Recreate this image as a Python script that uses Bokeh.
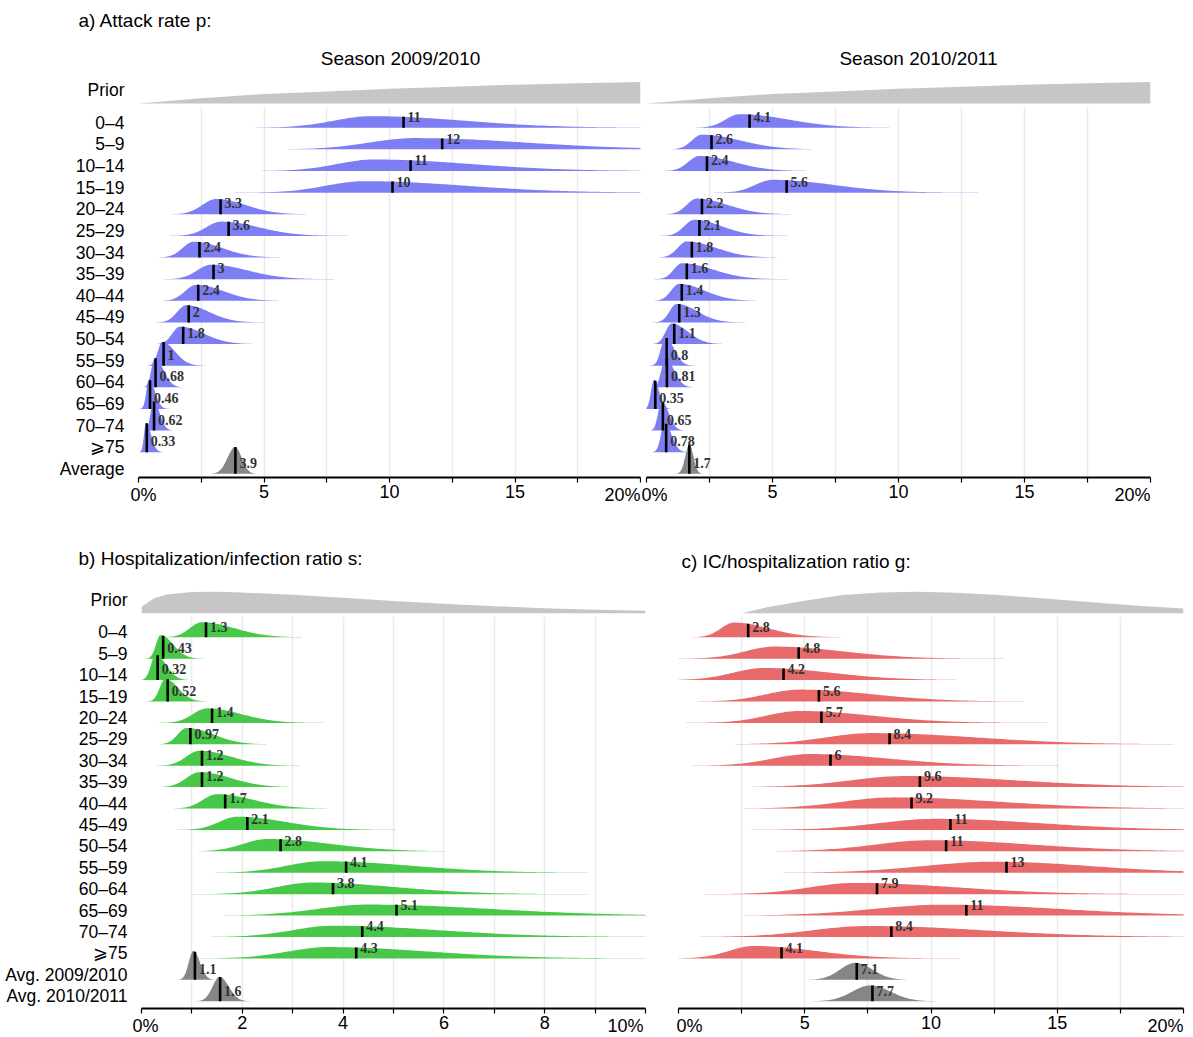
import numpy as np
from bokeh.plotting import figure
from bokeh.models import Range1d, FixedTicker, ColumnDataSource, BoxAnnotation
from bokeh.layouts import column, row
from bokeh.embed import file_html
from bokeh.resources import INLINE
from bokeh.core.properties import value

# ---------------- data ----------------
AGES = ["0–4", "5–9", "10–14", "15–19", "20–24", "25–29", "30–34", "35–39",
        "40–44", "45–49", "50–54", "55–59", "60–64", "65–69", "70–74", "⩾75"]
ROWS_A = AGES + ["Average"]
ROWS_BC = AGES + ["Avg. 2009/2010", "Avg. 2010/2011"]

# a) attack rate p, season 2009/2010 (median, mode, visible low end, visible high end)
med_a1 = [10.56, 12.1, 10.84, 10.12, 3.27, 3.59, 2.43, 2.99, 2.38, 2.0, 1.78, 1.0, 0.68, 0.46, 0.62, 0.33, 3.86]
mode_a1 = [9.3, 11.0, 9.4, 9.0, 3.1, 3.3, 2.2, 2.9, 2.3, 1.9, 1.65, 0.95, 0.65, 0.42, 0.6, 0.3, 3.85]
lo_a1 = [5.5, 6.5, 5.7, 5.2, 1.7, 1.8, 1.1, 1.5, 1.2, 1.0, 0.9, 0.5, 0.3, 0.15, 0.3, 0.1, 3.1]
hi_a1 = [18.5, 22.0, 19.0, 19.0, 6.0, 7.0, 5.0, 6.5, 5.0, 4.2, 4.0, 2.2, 1.5, 1.0, 1.2, 0.8, 4.5]

# a) attack rate p, season 2010/2011
med_a2 = [4.09, 2.58, 2.4, 5.56, 2.2, 2.1, 1.8, 1.6, 1.4, 1.3, 1.1, 0.8, 0.81, 0.35, 0.65, 0.78, 1.7]
mode_a2 = [3.7, 2.2, 2.1, 5.0, 2.0, 1.9, 1.6, 1.4, 1.3, 1.2, 1.0, 0.75, 0.75, 0.3, 0.6, 0.72, 1.7]
lo_a2 = [2.3, 1.2, 1.0, 3.3, 1.0, 0.9, 0.7, 0.6, 0.5, 0.5, 0.4, 0.3, 0.35, 0.0, 0.25, 0.35, 1.3]
hi_a2 = [8.5, 6.0, 5.5, 11.0, 5.0, 4.6, 4.5, 4.5, 3.8, 3.2, 2.6, 1.6, 1.6, 0.8, 1.3, 1.4, 2.1]

# b) hospitalization/infection ratio s
med_b = [1.28, 0.43, 0.32, 0.52, 1.4, 0.97, 1.2, 1.2, 1.66, 2.1, 2.76, 4.06, 3.8, 5.06, 4.38, 4.26, 1.06, 1.56]
mode_b = [1.2, 0.38, 0.28, 0.47, 1.3, 0.9, 1.15, 1.15, 1.5, 1.9, 2.5, 3.6, 3.4, 4.5, 3.8, 3.7, 1.03, 1.55]
lo_b = [0.6, 0.15, 0.05, 0.2, 0.6, 0.45, 0.5, 0.5, 0.8, 1.0, 1.3, 1.8, 1.6, 2.0, 1.8, 1.7, 0.8, 1.2]
hi_b = [2.8, 1.0, 0.8, 1.1, 3.0, 2.2, 2.7, 2.7, 3.3, 4.3, 5.6, 8.0, 7.5, 10.5, 9.0, 8.7, 1.35, 2.0]

# c) IC/hospitalization ratio g
med_c = [2.76, 4.76, 4.16, 5.56, 5.66, 8.36, 6.02, 9.56, 9.23, 10.77, 10.6, 12.99, 7.86, 11.4, 8.43, 4.08, 7.06, 7.68]
mode_c = [2.2, 3.8, 3.4, 4.8, 4.8, 7.7, 5.2, 9.0, 8.5, 10.2, 10.0, 12.5, 7.0, 10.5, 7.5, 3.0, 7.0, 7.6]
lo_c = [0.9, 0.9, 0.3, 1.5, 1.5, 3.0, 1.5, 3.5, 3.5, 4.5, 4.5, 5.5, 2.5, 3.5, 2.0, 0.5, 5.5, 5.8]
hi_c = [5.6, 10.5, 10.0, 12.0, 12.0, 18.0, 13.0, 20.0, 19.0, 20.5, 20.0, 22.0, 17.0, 22.0, 19.0, 9.0, 8.7, 9.6]

# prior curves (relative heights read at a few x positions)
prior_a_x = [0, 2.5, 5, 7.5, 10, 12.5, 15, 17.5, 20]
prior_a_h = [0.0, 0.24, 0.44, 0.56, 0.68, 0.77, 0.87, 0.94, 1.0]
prior_b_x = [0, 0.25, 0.5, 1, 1.5, 2, 3, 4, 5, 6, 7, 8, 9, 10]
prior_b_h = [0.3, 0.7, 0.88, 0.99, 1.0, 0.97, 0.86, 0.72, 0.57, 0.44, 0.33, 0.24, 0.17, 0.12]
prior_c_x = [2.5, 3.5, 5, 6.5, 8, 9.5, 11, 12.5, 14, 15.5, 17, 18.5, 20]
prior_c_h = [0.0, 0.28, 0.58, 0.85, 0.97, 1.0, 0.96, 0.86, 0.74, 0.6, 0.46, 0.33, 0.22]

# axis tick values and labels
A_TICKS = [0, 2.5, 5, 7.5, 10, 12.5, 15, 17.5, 20]
A_LAB_X = [0, 5, 10, 15, 20]
A_LAB = ["0%", "5", "10", "15", "20%"]
B_TICKS = [0, 1, 2, 3, 4, 5, 6, 7, 8, 9, 10]
B_LAB_X = [0, 2, 4, 6, 8, 10]
B_LAB = ["0%", "2", "4", "6", "8", "10%"]

# ---------------- styles ----------------
BLUE, GREEN, RED, GRAY, PRIOR = "#7e7ef4", "#48c848", "#e86a6a", "#868686", "#c6c6c6"
SANS, SERIF = "Liberation Sans", "Liberation Serif"
BASE_SHIFT = 0.23
PRIOR_BASE, PRIOR_H = 0.89, 1.0
W = 1193


def make_fig(width, height, xmax, ybot, ytop, bl, br, bt, bb, rows, ticks, yaxis):
    p = figure(width=width, height=height, x_range=Range1d(0, xmax), y_range=Range1d(ybot, ytop),
               output_backend="svg", toolbar_location=None,
               min_border_left=bl, min_border_right=br, min_border_top=bt, min_border_bottom=bb,
               y_axis_location="left" if yaxis else None)
    p.outline_line_color = None
    p.background_fill_color = "white"
    p.border_fill_color = "white"
    p.ygrid.visible = False
    p.xgrid.ticker = FixedTicker(ticks=ticks)
    p.xgrid.grid_line_color = "#ebebeb"
    p.xgrid.grid_line_width = 1.5
    ax = p.xaxis[0]
    ax.ticker = FixedTicker(ticks=[], minor_ticks=ticks)
    ax.axis_line_width = 2
    ax.axis_line_color = "black"
    ax.major_tick_out = 5
    ax.major_tick_in = 0
    ax.minor_tick_out = 5
    ax.minor_tick_in = 0
    ax.minor_tick_line_color = "black"
    ax.minor_tick_line_width = 1.2
    if yaxis:
        ay = p.yaxis[0]
        yt = [1.5] + [-i for i in range(len(rows))]
        ay.ticker = FixedTicker(ticks=yt, minor_ticks=[])
        ov = {1.5: "Prior"}
        for i, r in enumerate(rows):
            ov[-i] = r
        ay.major_label_overrides = ov
        ay.axis_line_color = None
        ay.major_tick_line_color = None
        ay.minor_tick_line_color = None
        ay.major_label_standoff = 8
        ay.major_label_text_font = SANS
        ay.major_label_text_font_size = "17.5px"
        ay.major_label_text_color = "black"
    # white mask so that the grid does not run through the prior strip
    mask = BoxAnnotation(bottom=0.72, fill_color="white", fill_alpha=1.0, line_color=None, level="glyph")
    p.renderers.append(mask)
    return p


def draw(p, xmax, med, mode, lo, hi, color, n_avg, prior_x, prior_h):
    px = [prior_x[0]] + list(prior_x) + [prior_x[-1]]
    py = [PRIOR_BASE] + [PRIOR_BASE + PRIOR_H * h for h in prior_h] + [PRIOR_BASE]
    p.patch(px, py, fill_color=PRIOR, line_color=None)

    n = len(med)
    xs, ys, cols = [], [], []
    tx, ty0, ty1, lx, ly, lt = [], [], [], [], [], []
    for i in range(n):
        base = -i - BASE_SHIFT
        m = mode[i]
        sl = (m - lo[i]) / 2.5
        sr = (hi[i] - m) / 2.5
        wfrac = (hi[i] - lo[i]) / xmax
        h = min(1.35, 0.45 + 0.055 / wfrac)
        x = np.linspace(m - 3.4 * sl, m + 3.4 * sr, 180)
        s = np.where(x < m, sl, sr)
        f = np.exp(-0.5 * ((x - m) / s) ** 2)
        xs.append(np.concatenate([x, x[::-1]]))
        ys.append(np.concatenate([base + h * f, np.full_like(x, base)]))
        cols.append(GRAY if i >= n - n_avg else color)
        sm = sl if med[i] < m else sr
        fm = np.exp(-0.5 * ((med[i] - m) / sm) ** 2)
        tx.append(med[i])
        ty0.append(base)
        ty1.append(base + h * fm)
        lx.append(med[i])
        ly.append(base + 0.5)
        lt.append("%.2g" % med[i])
    p.patches(xs="xs", ys="ys", fill_color="c", line_color=None,
              source=ColumnDataSource(dict(xs=xs, ys=ys, c=cols)))
    p.segment(x0="x", y0="y0", x1="x", y1="y1", line_color="black", line_width=2.6,
              source=ColumnDataSource(dict(x=tx, y0=ty0, y1=ty1)))
    p.text(x="x", y="y", text="t", source=ColumnDataSource(dict(x=lx, y=ly, t=lt)),
           text_font=value(SERIF), text_font_style="bold", text_font_size="14px",
           text_color="#333333", text_align="left", text_baseline="middle", x_offset=4)


def footer(width, height, frame_left, frame_w, xmax, lab_x, labs, off_first, off_last, top):
    """Tick-label strip sharing the panel's x scale (same px per unit, same origin)."""
    pxu = frame_w / xmax
    f = figure(width=width, height=height,
               x_range=Range1d(-frame_left / pxu, (width - frame_left) / pxu),
               y_range=Range1d(height, 0), output_backend="svg", toolbar_location=None,
               min_border=0, x_axis_location=None, y_axis_location=None)
    f.outline_line_color = None
    f.grid.visible = False
    aligns = ["left"] + ["center"] * (len(lab_x) - 2) + ["right"]
    offs = [off_first] + [0] * (len(lab_x) - 2) + [off_last]
    f.text(x="x", y="y", text="t", text_align="a", x_offset="o",
           source=ColumnDataSource(dict(x=lab_x, y=[top] * len(lab_x), t=labs, a=aligns, o=offs)),
           text_font=value(SANS), text_font_size="18px", text_color="black", text_baseline="top")
    return f


def header(width, height, items):
    h = figure(width=width, height=height, x_range=Range1d(0, width), y_range=Range1d(height, 0),
               output_backend="svg", toolbar_location=None, min_border=0,
               x_axis_location=None, y_axis_location=None)
    h.outline_line_color = None
    h.grid.visible = False
    for (x, y, t, align) in items:
        h.text(x=[x], y=[y], text=[t], text_font=value(SANS), text_font_size="19px",
               text_color="black", text_align=align, text_baseline="middle")
    return h


# ---- panel a ----
hdr_a = header(W, 70, [(78, 20, "a) Attack rate p:", "left"),
                       (400, 58, "Season 2009/2010", "center"),
                       (918, 58, "Season 2010/2011", "center")])
A_YB, A_YT = -16.4, 2.0
A1 = make_fig(641, 413, 20, A_YB, A_YT, 138, 1, 9, 6, ROWS_A, A_TICKS, True)
draw(A1, 20, med_a1, mode_a1, lo_a1, hi_a1, BLUE, 1, prior_a_x, prior_a_h)
A2 = make_fig(W - 641, 413, 20, A_YB, A_YT, 5, 43, 9, 6, ROWS_A, A_TICKS, False)
draw(A2, 20, med_a2, mode_a2, lo_a2, hi_a2, BLUE, 1, prior_a_x, prior_a_h)
FA1 = footer(641, 22, 138, 502, 20, A_LAB_X, A_LAB, -8, 0, 1)
FA2 = footer(W - 641, 22, 5, 504, 20, A_LAB_X, A_LAB, -5, 0, 1)

# ---- panels b and c ----
hdr_bc = header(W, 71, [(78, 53, "b) Hospitalization/infection ratio s:", "left"),
                        (681, 56, "c) IC/hospitalization ratio g:", "left")])
B_YB, B_YT = -17.57, 2.0
B = make_fig(660, 438, 10, B_YB, B_YT, 141, 15, 13, 6, ROWS_BC, B_TICKS, True)
draw(B, 10, med_b, mode_b, lo_b, hi_b, GREEN, 2, prior_b_x, prior_b_h)
C = make_fig(W - 660, 438, 20, B_YB, B_YT, 18, 10, 13, 6, ROWS_BC, A_TICKS, False)
draw(C, 20, med_c, mode_c, lo_c, hi_c, RED, 2, prior_c_x, prior_c_h)
FB = footer(660, 23, 141, 504, 10, B_LAB_X, B_LAB, -9, -2, 1)
FC = footer(W - 660, 23, 18, 505, 20, A_LAB_X, A_LAB, -2, 0, 1)

layout = column(hdr_a, row(A1, A2), row(FA1, FA2), hdr_bc, row(B, C), row(FB, FC))
open("out.html", "w").write(file_html(layout, INLINE))
